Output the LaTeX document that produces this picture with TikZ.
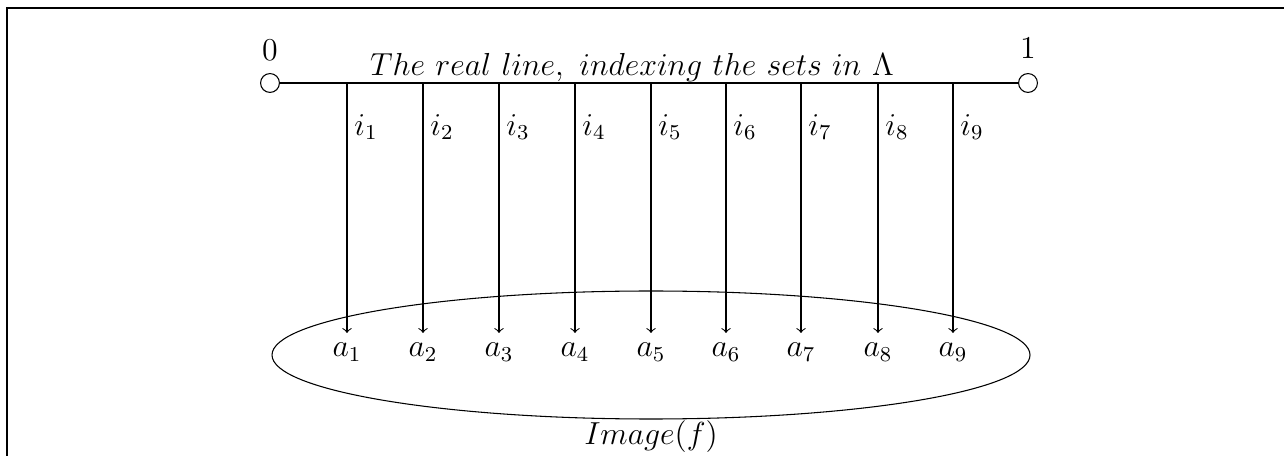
\documentclass[12pt,tikz,border=0pt]{standalone}
\begin{document}
\begin{tikzpicture}[x=0.013240cm,y=-0.013240cm,
  dot/.style={circle,draw,inner sep=0pt,minimum size=0.25cm},
  lbl/.style={inner sep=1pt},
  tgt/.style={inner sep=3.5pt},
  arr/.style={->,>=to}]
\useasboundingbox (0,0) rectangle (1284,456);
\draw[line width=0.8pt] (7,456) -- (7,8) -- (1284,8);
\node[dot] (z) at (270,83) {};
\node[dot] (o) at (1028,83) {};
\draw (z) -- (o);
\node[lbl] at (270,50) {$0$};
\node[lbl] at (1028,48) {$1$};
\node[lbl,anchor=base] (t) at (632,76) {$The\ real\ line,\ indexing\ the\ sets\ in\ \Lambda$};
\draw (651,355) ellipse (379 and 64);
\foreach \k/\x in {1/347,2/423,3/499,4/575,5/651,6/726,7/801,8/878,9/953}{
  \coordinate (s\k) at (\x,83);
  \node[tgt] (a\k) at (\x,352) {$a_{\k}$};
  \draw[arr] (s\k) -- (a\k.north);
  \node[lbl] (i\k) at (\x+19,127) {$i_{\k}$};
}
\node[lbl] (img) at (651,437) {$Image(f)$};
\end{tikzpicture}
\end{document}
